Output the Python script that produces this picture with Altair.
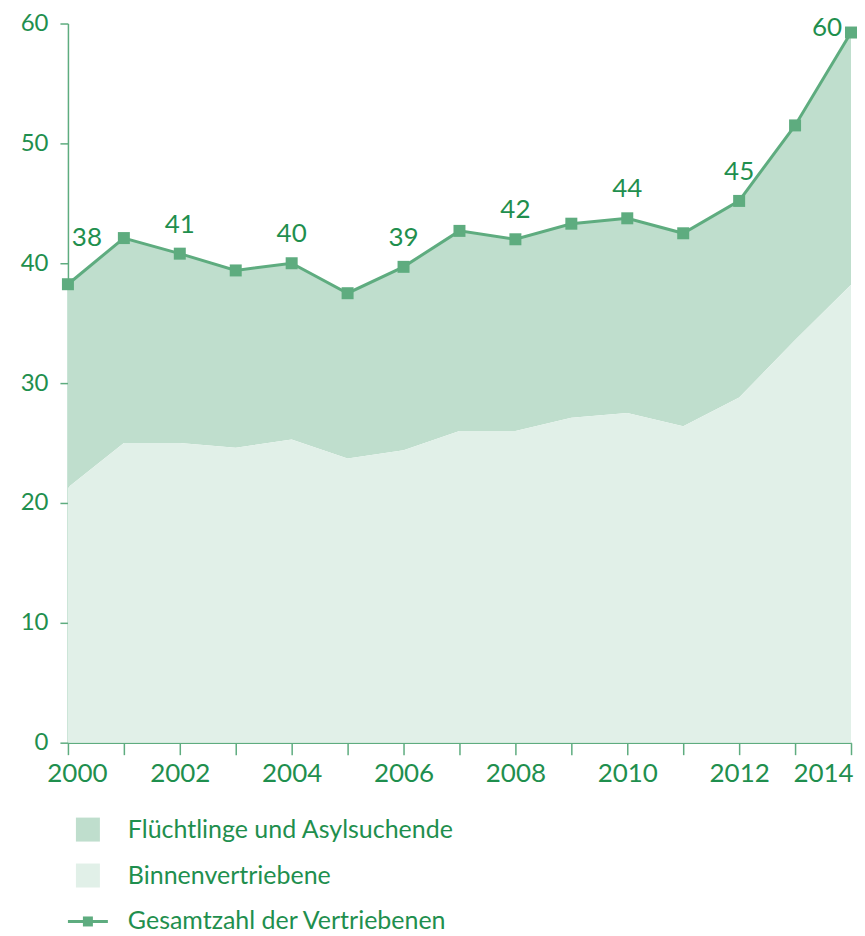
import altair as alt
import pandas as pd

years = list(range(2000, 2015))
gesamt = [38.25, 42.1, 40.8, 39.4, 40.0, 37.5, 39.7, 42.7, 42.0, 43.3, 43.75, 42.5, 45.2, 51.5, 59.25]
binnen = [21.3, 25.0, 25.0, 24.6, 25.3, 23.7, 24.4, 26.0, 26.0, 27.1, 27.5, 26.4, 28.8, 33.6, 38.2]
label_years = [2000, 2002, 2004, 2006, 2008, 2010, 2012, 2014]
label_texts = ["38", "41", "40", "39", "42", "44", "45", "60"]
legend_labels = ["Flüchtlinge und Asylsuchende", "Binnenvertriebene", "Gesamtzahl der Vertriebenen"]

DARK = "#bfdecd"
LIGHT = "#e1f0e8"
LINE = "#5eac7f"
TEXT = "#1f8f4e"
FONT = "Lato"

df = pd.DataFrame({"year": years, "gesamt": gesamt, "binnen": binnen})
lab = pd.DataFrame({"year": label_years, "text": label_texts})
lab = lab.merge(df[["year", "gesamt"]], on="year")

xs = alt.Scale(domain=[2000, 2014], nice=False, zero=False)
ys = alt.Scale(domain=[0, 60], nice=False)

x_axis = alt.Axis(
    values=years,
    labelExpr="datum.value % 2 == 0 ? datum.value : ''",
    labelOffset={"expr": "datum.value == 2014 ? -28 : (datum.value == 2000 ? 9 : 0)"},
    labelFlush=False,
    tickSize=12, labelPadding=6, labelFontSize=26, labelFont=FONT,
    labelColor=TEXT, domainColor=LINE, tickColor=LINE, domainWidth=1.5, tickWidth=1.5,
    grid=False, title=None, format="d", labelOverlap=False,
)
y_axis = alt.Axis(
    values=[0, 10, 20, 30, 40, 50, 60],
    tickSize=8, labelPadding=12, labelFontSize=24, labelFont=FONT, labelFlush=False,
    labelColor=TEXT, domainColor=LINE, tickColor=LINE, domainWidth=1.5, tickWidth=1.5,
    grid=False, title=None, minExtent=60, maxExtent=60,
)

base = alt.Chart(df)
dark_area = base.mark_area(color=DARK, opacity=1).encode(
    x=alt.X("year:Q", scale=xs, axis=x_axis),
    y=alt.Y("gesamt:Q", scale=ys, axis=y_axis),
    y2="binnen:Q",
)
light_area = base.mark_area(color=LIGHT, opacity=1).encode(
    x=alt.X("year:Q", scale=xs),
    y=alt.Y("binnen:Q", scale=ys),
)
line = base.mark_line(color=LINE, strokeWidth=3).encode(
    x=alt.X("year:Q", scale=xs),
    y=alt.Y("gesamt:Q", scale=ys),
)
points = base.mark_square(color=LINE, size=144, opacity=1).encode(
    x=alt.X("year:Q", scale=xs),
    y=alt.Y("gesamt:Q", scale=ys),
)

lbase = alt.Chart(lab)
txt_mid = lbase.transform_filter("datum.year > 2000 && datum.year < 2014").mark_text(
    font=FONT, fontSize=26, color=TEXT, dy=-29, baseline="middle", align="center"
).encode(x=alt.X("year:Q", scale=xs), y=alt.Y("gesamt:Q", scale=ys), text="text:N")
txt_first = lbase.transform_filter("datum.year == 2000").mark_text(
    font=FONT, fontSize=26, color=TEXT, dx=19, dy=-46, baseline="middle", align="center"
).encode(x=alt.X("year:Q", scale=xs), y=alt.Y("gesamt:Q", scale=ys), text="text:N")
txt_last = lbase.transform_filter("datum.year == 2014").mark_text(
    font=FONT, fontSize=26, color=TEXT, dx=-9, dy=-5, baseline="middle", align="right"
).encode(x=alt.X("year:Q", scale=xs), y=alt.Y("gesamt:Q", scale=ys), text="text:N")

main = alt.layer(dark_area, light_area, line, points, txt_mid, txt_first, txt_last).properties(
    width=784, height=720
)

# legend
leg = pd.DataFrame({"label": legend_labels, "row": [0, 1, 2]})
ly = alt.Y("row:Q", scale=alt.Scale(domain=[-0.2609, 2.087], reverse=True, nice=False, zero=False), axis=None)
lchart = alt.Chart(leg)
leg_sq = lchart.transform_filter("datum.row < 2").mark_square(size=576, opacity=1).encode(
    x=alt.value(20), y=ly,
    color=alt.Color("label:N", scale=alt.Scale(domain=legend_labels[:2], range=[DARK, LIGHT]), legend=None),
)
leg_rule = lchart.transform_filter("datum.row == 2").mark_rule(color=LINE, strokeWidth=3).encode(
    x=alt.value(0), x2=alt.value(40), y=ly,
)
leg_pt = lchart.transform_filter("datum.row == 2").mark_square(color=LINE, size=100, opacity=1).encode(
    x=alt.value(20), y=ly,
)
leg_txt = lchart.mark_text(font=FONT, fontSize=25, color=TEXT, align="left", baseline="middle").encode(
    x=alt.value(60), y=ly, text="label:N"
)
legend = alt.layer(leg_sq, leg_rule, leg_pt, leg_txt).properties(width=784, height=108)

chart = alt.vconcat(main, legend, spacing=31).properties(
    padding={"left": 0, "top": 3, "right": 0, "bottom": 0}
).configure_view(stroke=None)

chart.save("out.html", embed_options={"renderer": "svg", "actions": False})
